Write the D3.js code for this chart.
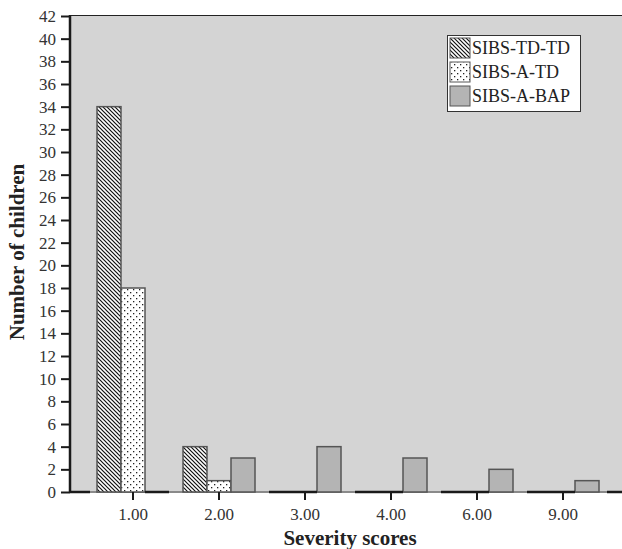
<!DOCTYPE html>
<html><head><meta charset="utf-8">
<script src="https://cdn.jsdelivr.net/npm/d3@7"></script>
<style>html,body{margin:0;padding:0;background:#fff;}svg{display:block;}</style>
</head><body>
<svg id="chart" width="622" height="549"></svg>
<script>
const categories = ["1.00","2.00","3.00","4.00","6.00","9.00"];
const seriesNames = ["SIBS-TD-TD","SIBS-A-TD","SIBS-A-BAP"];
const sibsTDTD = [34,4,0,0,0,0];
const sibsATD = [18,1,0,0,0,0];
const sibsABAP = [0,3,4,3,2,1];
const yTicks = d3.range(0,43,2);

(function(){
const seriesValues = [sibsTDTD, sibsATD, sibsABAP];
const svg = d3.select("#chart");
const pLeft = 70, pTop = 15, pRight = 622, base = 492;
const font = "'Liberation Serif','Times New Roman',serif";

const defs = svg.append("defs");
const hatch = defs.append("pattern").attr("id","hatch").attr("patternUnits","userSpaceOnUse")
  .attr("width",4).attr("height",4);
hatch.append("rect").attr("width",4).attr("height",4).attr("fill","#fff");
hatch.append("path").attr("d","M-1,-1 L5,5 M-1,3 L1,5 M3,-1 L5,1").attr("stroke","#111").attr("stroke-width",1.2);
const dots = defs.append("pattern").attr("id","dots").attr("patternUnits","userSpaceOnUse")
  .attr("width",6).attr("height",6);
dots.append("rect").attr("width",6).attr("height",6).attr("fill","#fff");
dots.append("rect").attr("x",1).attr("y",1).attr("width",1.3).attr("height",1.3).attr("fill","#222");
dots.append("rect").attr("x",4).attr("y",4).attr("width",1.3).attr("height",1.3).attr("fill","#222");
const fills = ["url(#hatch)","url(#dots)","#b4b4b4"];

const y = d3.scaleLinear().domain([0,42]).range([base,16]);
const x0 = d3.scaleBand().domain(categories).range([90,606]).padding(0);
const x1 = d3.scaleBand().domain(seriesNames).range([x0.bandwidth()*0.0814, x0.bandwidth()*0.9186]).padding(0);

svg.append("rect").attr("x",pLeft).attr("y",pTop).attr("width",pRight-pLeft).attr("height",base-pTop).attr("fill","#d4d4d4");
svg.append("line").attr("x1",pLeft).attr("x2",pRight).attr("y1",pTop+0.5).attr("y2",pTop+0.5).attr("stroke","#222").attr("stroke-width",1.2);

svg.append("line").attr("x1",pLeft).attr("x2",pRight).attr("y1",base).attr("y2",base).attr("stroke","#8a8a8a").attr("stroke-width",2);
svg.append("line").attr("x1",pLeft).attr("x2",x0.range()[0]).attr("y1",base).attr("y2",base).attr("stroke","#1a1a1a").attr("stroke-width",2.5);
svg.append("line").attr("x1",x0.range()[1]+1).attr("x2",pRight).attr("y1",base).attr("y2",base).attr("stroke","#1a1a1a").attr("stroke-width",2.5);

const data = [];
categories.forEach((c,i)=>seriesNames.forEach((s,j)=>data.push({c,s,j,v:seriesValues[j][i]})));
const g = svg.append("g");
g.selectAll("rect.bar").data(data.filter(d=>d.v>0)).join("rect").attr("class","bar")
  .attr("x",d=>x0(d.c)+x1(d.s)).attr("width",x1.bandwidth())
  .attr("y",d=>y(d.v)).attr("height",d=>y(0)-y(d.v))
  .attr("fill",d=>fills[d.j]).attr("stroke","#555").attr("stroke-width",1.5);
g.selectAll("line.zero").data(data.filter(d=>d.v===0)).join("line").attr("class","zero")
  .attr("x1",d=>x0(d.c)+x1(d.s)).attr("x2",d=>x0(d.c)+x1(d.s)+x1.bandwidth())
  .attr("y1",base).attr("y2",base).attr("stroke","#1a1a1a").attr("stroke-width",2.5);

const yAxis = svg.append("g").attr("transform",`translate(${pLeft},0)`)
  .call(d3.axisLeft(y).tickValues(yTicks).tickSize(9).tickPadding(5).tickFormat(d3.format("d")));
yAxis.select(".domain").remove();
yAxis.selectAll(".tick line").attr("stroke","#1a1a1a").attr("stroke-width",2);
yAxis.selectAll("text").attr("font-family",font).attr("font-size",17).attr("fill","#333");
svg.append("line").attr("x1",pLeft).attr("x2",pLeft).attr("y1",pTop).attr("y2",base+1).attr("stroke","#1a1a1a").attr("stroke-width",2.5);

const xAxis = svg.append("g").attr("transform",`translate(0,${base})`)
  .call(d3.axisBottom(x0).tickSize(8).tickPadding(8));
xAxis.select(".domain").remove();
xAxis.selectAll(".tick line").attr("stroke","#1a1a1a").attr("stroke-width",2);
xAxis.selectAll("text").attr("font-family",font).attr("font-size",17).attr("fill","#333");

svg.append("text").attr("x",350).attr("y",545).attr("text-anchor","middle")
  .attr("font-family",font).attr("font-weight","bold").attr("font-size",21).attr("fill","#222").text("Severity scores");
svg.append("text").attr("transform",`translate(24,${252}) rotate(-90)`).attr("text-anchor","middle")
  .attr("font-family",font).attr("font-weight","bold").attr("font-size",21).attr("fill","#222").text("Number of children");

const lg = svg.append("g");
lg.append("rect").attr("x",447.5).attr("y",35.5).attr("width",133).attr("height",76).attr("fill","#fff").attr("stroke","#333").attr("stroke-width",1);
seriesNames.forEach((s,i)=>{
  const yy = 38 + i*24;
  lg.append("rect").attr("x",450).attr("y",yy).attr("width",20).attr("height",20)
    .attr("fill",fills[i]).attr("stroke","#555").attr("stroke-width",1);
  lg.append("text").attr("x",472).attr("y",yy+16).attr("font-family",font).attr("font-size",18).attr("fill","#222").text(s);
});
})();
</script>
</body></html>
